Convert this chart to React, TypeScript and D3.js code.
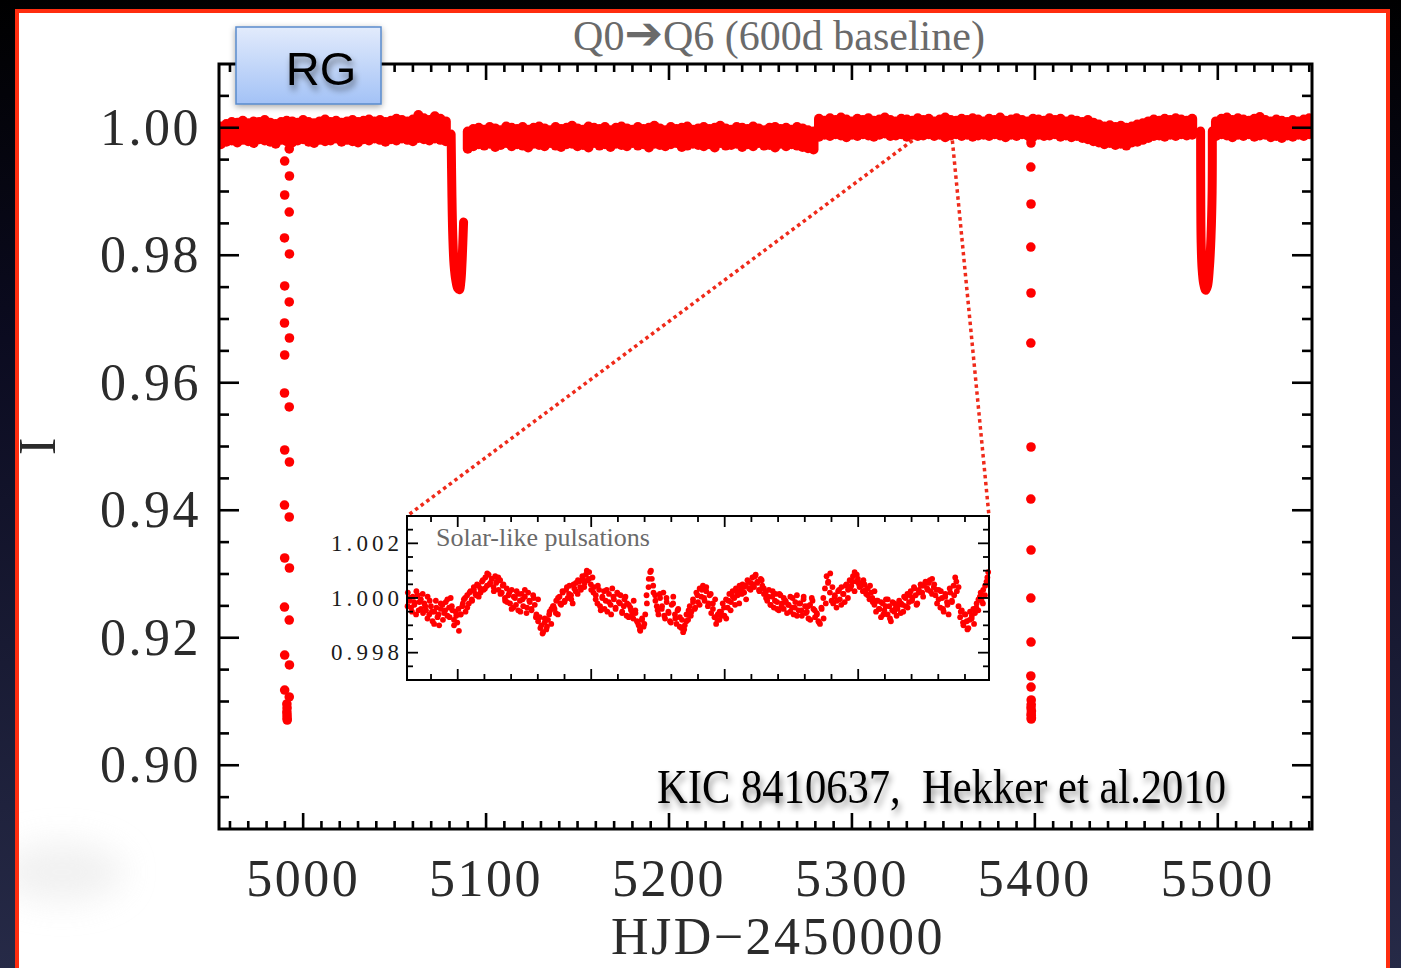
import React from 'react';
import * as d3 from 'd3';

const W = 1401;
const H = 968;

// ---- Main light curve, binned (BIN_DAYS wide); upper/lower flux envelope in units of 1e-4 ----
const BIN_DAYS = 3;

const segAStart = 4955;
const segAHi = [2, 6, 9, 8, 11, 7, 10, 9, 12, 8, 6, 9, 11, 10, 8, 12, 9, 7, 10, 13, 9, 11, 8, 10, 12, 9, 11, 13, 10, 12, 9, 11, 14, 12, 10, 13, 20, 15, 12, 18, 14, 10];
const segALo = [-26, -22, -20, -23, -19, -21, -24, -18, -20, -22, -25, -19, -21, -23, -20, -18, -22, -24, -19, -21, -20, -17, -22, -19, -21, -23, -18, -20, -17, -19, -22, -18, -20, -17, -19, -21, -16, -18, -20, -17, -19, -21];

const segBStart = 5090;
const segBHi = [-6, -2, 0, -3, 1, -1, -4, 2, 0, -2, 1, -3, 0, 2, -1, -4, 1, -2, 0, 3, -1, -3, 2, 0, -2, 1, -4, 0, 2, -1, -3, 1, -2, 0, 3, -1, -4, 1, -2, 0, 2, -3, -1, 1, -2, 0, 3, -1, -3, 1, 0, -2, 2, -1, -4, 0, 1, -2, 0, -3, 1, -1, -4, -6];
const segBLo = [-33, -29, -26, -28, -25, -30, -27, -24, -29, -26, -28, -31, -25, -27, -29, -24, -28, -30, -26, -25, -29, -27, -31, -24, -28, -26, -30, -25, -27, -29, -24, -28, -26, -31, -25, -27, -29, -26, -24, -30, -28, -25, -27, -29, -26, -31, -24, -28, -27, -25, -30, -26, -29, -24, -28, -27, -31, -25, -29, -26, -28, -30, -32, -34];

const segC1Start = 5282;
const segC1Hi = [14, 11, 15, 12, 16, 13, 10, 14, 12, 15, 11, 13, 16, 12, 10, 14, 13, 11, 15, 12, 14, 10, 13, 16, 12, 11, 14, 12, 15, 13, 10, 14, 12, 16, 11, 13, 15, 12, 10, 14, 13, 11, 15, 12, 14, 10, 13, 11, 9, 12, 8, 5, 2, 4, 1, 3, 0, 2, 5, 7, 10, 13, 11, 14, 12, 15, 13, 11, 14];
const segC1Lo = [-14, -11, -13, -10, -12, -15, -11, -13, -10, -12, -14, -11, -9, -13, -12, -10, -14, -11, -13, -12, -10, -13, -11, -15, -12, -10, -13, -11, -14, -12, -11, -13, -10, -12, -15, -11, -13, -10, -12, -14, -11, -13, -12, -10, -14, -12, -15, -13, -16, -18, -21, -23, -26, -24, -27, -25, -28, -23, -22, -19, -16, -13, -12, -14, -11, -13, -10, -12, -11];

const segC2Start = 5499;
const segC2Hi = [10, 14, 16, 12, 15, 13, 11, 14, 17, 12, 10, 13, 11, 9, 12, 10, 13, 15];
const segC2Lo = [-13, -10, -12, -15, -11, -13, -10, -14, -12, -11, -15, -13, -16, -12, -14, -11, -13, -10];

// ---- Secondary eclipses (densely sampled, drawn as thick traces) ----
const ecl1Time = [5080.9, 5081.3, 5081.8, 5082.5, 5083.5, 5084.5, 5085.4, 5086.2, 5086.8, 5087.3, 5087.7];
const ecl1Flux = [0.999, 0.99, 0.983, 0.9785, 0.976, 0.9748, 0.9746, 0.9758, 0.9785, 0.982, 0.9852];

const ecl2Time = [5490.6, 5490.7, 5490.9, 5491.4, 5492.3, 5493.4, 5494.4, 5495.4, 5496.3, 5496.9, 5497.0];
const ecl2Flux = [0.9995, 0.988, 0.982, 0.978, 0.9755, 0.9745, 0.9752, 0.978, 0.983, 0.99, 0.9995];

// ---- Primary eclipses (sparse points) ----
const prim1Time = [
  4989.9, 4989.9, 4989.8, 4989.9, 4989.8, 4989.9, 4989.8, 4989.9, 4989.8, 4989.9, 4989.8, 4989.9, 4989.9,
  4992.4, 4992.5, 4992.4, 4992.5, 4992.4, 4992.5, 4992.4, 4992.5, 4992.4, 4992.5, 4992.4, 4992.5, 4992.4,
  4991.1, 4991.2, 4991.1, 4991.2, 4991.2, 4991.3,
];
const prim1Flux = [
  0.99478, 0.98945, 0.98271, 0.97518, 0.96937, 0.96435, 0.95839, 0.94945, 0.94082, 0.93251, 0.92482, 0.91729, 0.9118,
  0.99667, 0.99243, 0.98678, 0.9802, 0.97267, 0.96702, 0.9562, 0.94757, 0.93894, 0.93094, 0.92278, 0.91573, 0.91071,
  0.90961, 0.90898, 0.90835, 0.90788, 0.90741, 0.9071,
];

const prim2Time = [5397.8, 5397.9, 5397.8, 5397.9, 5397.8, 5397.9, 5397.8, 5397.9, 5397.8, 5397.9, 5397.8, 5397.9, 5397.8, 5397.9, 5398.0, 5397.9, 5398.0, 5398.0, 5398.0, 5398.1, 5398.0, 5398.1];
const prim2Flux = [0.99823, 0.99761, 0.99384, 0.98804, 0.98129, 0.97408, 0.96623, 0.94992, 0.94176, 0.93376, 0.92623, 0.91933, 0.914, 0.91227, 0.91024, 0.90898, 0.90804, 0.90725, 0.9095, 0.9085, 0.9078, 0.9074];

// ---- Inset: solar-like pulsations, relative flux deviation in units of 1e-5 ----
// two interleaved cadence sets over the same window
const insetDomain = [5333.1, 5354.9];
const insetFluxA = [
  20, -10, -35, 5, -25, -60, 10, -15, -40, 15,
  -20, -45, 5, -60, -30, -85, -50, -10, -70, -100, -40, -25, -55, -15, -65, -35, 0, -45, -80, -50, -90, -120, -60,
  -30, -5, -50, 10, -20, 25, -10, 40, 15, 50, 5, 35, 60, 30, 75, 45, 85, 55, 70, 40, 80, 60, 30, 65, 20, 50, -10, 35,
  10, -20, 30, -35, 0, 25, -45, -10, 15, -30, 5, -55, 20, -15, -40, 10, -25, -60, -5,
  -70, -100, -125, -90, -115, -80, -50, -95, -30,
  -40, -10, -60, 5, -25, 20, -15, 30, 0, 45, 10, -20, 35, 55, 15, 60, 30, 70, 40, 85, 65, 95, 50, 75,
  40, 10, -20, 30, -45, 5, 25, -10, -50, 15, -25, 35, -5, -40, 20, -15, 10, -55, -30, 5, -20, -70, -35, -60, -10, -45, -85,
  -100, -120, -80, -105, -60,
  -20, 40, 95, 70, 20,
  10, -30, -60, 0, -40, 20, -75, -15, -50, -85, -25, 5, -60, -95, -40, -70, -110, -125,
  -100, -60, -80, -30, -50, -5, -40, 20, -15, 35, 5, 45, -10, 25, -30, 10, -55, -20, -70, -95, -60,
  -80, -50, -20, -65, -5, -35, 15, -15, 25, 0, 35, 10, -20, 30, 50, 20, 45, 65, 35, 55, 75, 40, 85, 60, 30, 70, 45, 15,
  20, -10, 30, -25, 5, -35, 15, -15, -45, 10, -20,
  -40, -10, -55, -25, 5, -35, -60, -15, 10, -45, -20, -65, -5, -30, -50, -75, -25, 0, -40, -70, -55, -85, -95,
  -40, 0, 35, 80, 60, 20, -10,
  -20, 10, -35, 25, -5, 40, 15, -15, 50, 30, 65, 45, 80, 95, 60,
  70, 40, 55, 25, 50, 15, 35, -5, 20, -15,
  -25, -50, -10, -40, -70, -20, -45, -5, -60, -30, -85, -15, -50, -35,
  -40, -10, -55, -25, 5, -30, 15, -15, 25, 0, 40, 10, -20, 30, 50, 20, 45, 60, 35, 55, 25, 70, 40,
  10, -20, 30, -35, 0, -50, 15, -15, -60, 20, -10, 45, 75, 25,
  -30, -70, -45, -100, -60, -85, -110, -50, -75, -40,
  -55, -20, -45, 5, -10, 30, 10, 60, 95,
];
const insetFluxB = [
  -30, 0, -50, -15, 25, -45, -5,
  -55, -30, -75, -10, -50, -95, -35, -60, -20, -80, -45, -5, -70, -30, -100, -65, -40,
  -60, -20, 0, -35, 20, -5, 30, 10, 45, 20, 65, 35, 90, 50, 70, 25, 55, 75, 15, 45, 0,
  -15, 20, -40, 5, -25, 15, -50, -5, 30, -35, -10, -45, 0, -70,
  -85, -110, -130, -75, -105, -60, -40,
  -30, -55, 0, -20, 25, -10, 40, 15, -5, 50, 25, 65, 40, 80, 55, 100, 70, 30,
  20, -5, 45, -30, 0, -40, 30, -15, -60, 5, -35, 15, -20, -50, -5, -65, -25, -45, -75, -55,
  -90, -115, -75, -95,
  10, 70, 100, 45,
  -10, -45, 15, -30, -65, 0, -55, -90, -20, -75, -45, -105, -80, -115,
  -85, -45, -65, -15, -35, 10, -25, 30, 0, 40, -20, 15, -40, -5, -80, -50,
  -65, -35, -75, -10, -45, 5, -25, 20, 45, 15, 40, -5, 60, 30, 50, 80, 55, 25, 65, 35, 0,
  5, -25, 25, -10, -40, 15, -30, 0, -15,
  -25, -50, 0, -35, -65, -20, -45, 5, -55, -30, -80, -10, -45, -60, -90, -35, -75,
  -20, 55, 90, 40, 5,
  -10, 30, -25, 15, 45, 0, 35, 60, 25, 85, 50,
  45, 65, 30, 10, 45, 0, 25, -10,
  -40, -15, -60, -30, -5, -75, -45, -20, -65, -25,
  -20, -50, 0, -35, 10, -10, 35, -25, 20, 45, 5, 55, 30, 65, 15, 50, 30,
  -5, 25, -40, 5, -25, 35, -15, 10, 60, 40,
  -50, -90, -60, -115, -80, -65, -95,
  -35, -5, 20, -20, 45, 75,
];

// ---- Axis ticks ----
const xMajorTicks = [5000, 5100, 5200, 5300, 5400, 5500];
const yMajorTicks = [0.9, 0.92, 0.94, 0.96, 0.98, 1.0];
const insetXMajor = [5335, 5340, 5345, 5350];
const insetYMajor = [0.998, 1.0, 1.002];

const RED = '#ff0000';
const SERIF = '"Liberation Serif", "Times New Roman", serif';

const xMain = d3.scaleLinear().domain([4954, 5551.5]).range([219, 1312]);
const yMain = d3.scaleLinear().domain([0.89, 1.01]).range([829, 64]);
const xIn = d3.scaleLinear().domain(insetDomain).range([407, 989]);
const yIn = d3.scaleLinear().domain([0.997, 1.003]).range([680, 516]);

type Bin = { t: number; hi: number; lo: number };
function bins(start: number, hi: number[], lo: number[]): Bin[] {
  return hi.map((h, i) => ({ t: start + i * BIN_DAYS, hi: 1 + h * 1e-4, lo: 1 + lo[i] * 1e-4 }));
}

const band: Bin[] = [
  ...bins(segAStart, segAHi, segALo),
  ...bins(segBStart, segBHi, segBLo),
  ...bins(segC1Start, segC1Hi, segC1Lo),
  ...bins(segC2Start, segC2Hi, segC2Lo),
];

const zip = (ts: number[], fs: number[]) => ts.map((t, i) => ({ t, f: fs[i] }));
const eclipseLine = d3
  .line<{ t: number; f: number }>()
  .x((d) => xMain(d.t))
  .y((d) => yMain(d.f))
  .curve(d3.curveCatmullRom);

const primaryPts = [...zip(prim1Time, prim1Flux), ...zip(prim2Time, prim2Flux)];

function cadence(vals: number[], phase: number) {
  const step = (insetDomain[1] - insetDomain[0]) / vals.length;
  return vals.map((v, i) => ({ t: insetDomain[0] + (i + phase) * step, f: 1 + v * 1e-5 }));
}
const insetPts = [...cadence(insetFluxA, 0.5), ...cadence(insetFluxB, 0.25)];

const xMinorTicks = d3.range(4960, 5551, 10).filter((v) => v % 100 !== 0);
const yMinorTicks = d3.range(895, 1010, 5).filter((v) => v % 20 !== 0).map((v) => v / 1000);
const insetXMinor = d3.range(5334, 5355, 1).filter((v) => v % 5 !== 0);
const insetYMinor = d3.range(9975, 10030, 5).filter((v) => v % 20 !== 0).map((v) => v / 10000);

function Ticks(props: {
  x0: number; x1: number; y0: number; y1: number;
  xs: { v: number; len: number }[]; ys: { v: number; len: number }[];
  sx: (v: number) => number; sy: (v: number) => number; sw: number;
}) {
  const { x0, x1, y0, y1, xs, ys, sx, sy, sw } = props;
  return (
    <g stroke="#000" strokeWidth={sw}>
      {xs.map((d, i) => (
        <g key={'x' + i}>
          <line x1={sx(d.v)} x2={sx(d.v)} y1={y1} y2={y1 - d.len} />
          <line x1={sx(d.v)} x2={sx(d.v)} y1={y0} y2={y0 + d.len} />
        </g>
      ))}
      {ys.map((d, i) => (
        <g key={'y' + i}>
          <line x1={x0} x2={x0 + d.len} y1={sy(d.v)} y2={sy(d.v)} />
          <line x1={x1} x2={x1 - d.len} y1={sy(d.v)} y2={sy(d.v)} />
        </g>
      ))}
    </g>
  );
}

export default function App() {
  const [px0, px1] = xMain.range();
  const [py1, py0] = yMain.range();
  const [ix0, ix1] = xIn.range();
  const [iy1, iy0] = yIn.range();

  const connL = { x1: xMain(insetDomain[0]), y1: yMain(0.998), x2: ix0, y2: iy0 };
  const connR = { x1: xMain(insetDomain[1]), y1: yMain(0.998), x2: ix1, y2: iy0 };

  return (
    <svg width={W} height={H} style={{ position: 'absolute', left: 0, top: 0 }} xmlns="http://www.w3.org/2000/svg">
      <defs>
        <linearGradient id="bg" x1="0" y1="0" x2="0" y2="1">
          <stop offset="0%" stopColor="#000000" />
          <stop offset="35%" stopColor="#0b0b20" />
          <stop offset="100%" stopColor="#262a47" />
        </linearGradient>
        <linearGradient id="rgFill" x1="0" y1="0" x2="0" y2="1">
          <stop offset="0%" stopColor="#e2ebfc" />
          <stop offset="100%" stopColor="#a3c2f6" />
        </linearGradient>
        <filter id="textShadow" x="-10%" y="-40%" width="120%" height="200%">
          <feDropShadow dx="2" dy="5" stdDeviation="3" floodColor="#000" floodOpacity="0.45" />
        </filter>
        <filter id="boxShadow" x="-20%" y="-20%" width="140%" height="150%">
          <feDropShadow dx="0" dy="2" stdDeviation="3" floodColor="#000" floodOpacity="0.35" />
        </filter>
        <filter id="haze" x="-100%" y="-100%" width="300%" height="300%">
          <feGaussianBlur stdDeviation="16" />
        </filter>
        <clipPath id="plotClip">
          <rect x={px0} y={py0} width={px1 - px0} height={py1 - py0} />
        </clipPath>
        <clipPath id="panelClip">
          <rect x={19} y={13} width={1367} height={960} />
        </clipPath>
      </defs>

      {/* backdrop and slide panel */}
      <rect x={0} y={0} width={W} height={H} fill="url(#bg)" />
      <rect x={17} y={11} width={1371} height={980} fill="#ffffff" stroke="#ff2d0f" strokeWidth={4} />
      <g clipPath="url(#panelClip)">
        <ellipse cx={62} cy={872} rx={62} ry={30} fill="#e6e6e6" opacity={0.55} filter="url(#haze)" />
      </g>

      {/* title */}
      <text x={779} y={50} textAnchor="middle" fontFamily={SERIF} fontSize={42} fill="#6a6a6a">
        Q0
        <tspan fontFamily='"DejaVu Sans", sans-serif' fontSize={46} dy={-1}>➔</tspan>
        <tspan dy={1}>Q6 (600d baseline)</tspan>
      </text>

      {/* light curve */}
      <g clipPath="url(#plotClip)">
        <g stroke={RED} strokeWidth={10} strokeLinecap="round">
          {band.map((b, i) => (
            <line key={i} x1={xMain(b.t)} x2={xMain(b.t)} y1={yMain(b.hi)} y2={yMain(b.lo)} />
          ))}
        </g>
        <g fill="none" stroke={RED} strokeWidth={9} strokeLinecap="round" strokeLinejoin="round">
          <path d={eclipseLine(zip(ecl1Time, ecl1Flux)) || ''} />
          <path d={eclipseLine(zip(ecl2Time, ecl2Flux)) || ''} />
        </g>
        <g fill={RED}>
          {primaryPts.map((p, i) => (
            <circle key={i} cx={xMain(p.t)} cy={yMain(p.f)} r={4.8} />
          ))}
        </g>
      </g>

      {/* main frame */}
      <rect x={px0} y={py0} width={px1 - px0} height={py1 - py0} fill="none" stroke="#000" strokeWidth={3} />
      <Ticks
        x0={px0} x1={px1} y0={py0} y1={py1}
        xs={[...xMajorTicks.map((v) => ({ v, len: 16 })), ...xMinorTicks.map((v) => ({ v, len: 8 }))]}
        ys={[...yMajorTicks.map((v) => ({ v, len: 20 })), ...yMinorTicks.map((v) => ({ v, len: 10 }))]}
        sx={xMain} sy={yMain} sw={2.6}
      />

      <g fontFamily={SERIF} fontSize={52} fill="#2b2b2b" letterSpacing={2.5}>
        {yMajorTicks.map((v) => (
          <text key={v} x={201} y={yMain(v) + 17} textAnchor="end">{v.toFixed(2)}</text>
        ))}
        {xMajorTicks.map((v) => (
          <text key={v} x={xMain(v)} y={896} textAnchor="middle">{v}</text>
        ))}
        <text x={778} y={954} textAnchor="middle">HJD−2450000</text>
        <text x={0} y={0} textAnchor="middle" transform="translate(55,445) rotate(-90)">I</text>
      </g>

      {/* zoom connectors */}
      <g stroke="#ef2a1a" strokeWidth={3.5} strokeDasharray="3.5 3.5" fill="none">
        <line {...connL} />
        <line {...connR} />
      </g>

      {/* inset */}
      <rect x={ix0} y={iy0} width={ix1 - ix0} height={iy1 - iy0} fill="#ffffff" />
      <g fill={RED}>
        {insetPts.map((p, i) => (
          <circle key={i} cx={xIn(p.t)} cy={yIn(p.f)} r={2.9} />
        ))}
      </g>
      <rect x={ix0} y={iy0} width={ix1 - ix0} height={iy1 - iy0} fill="none" stroke="#000" strokeWidth={2} />
      <Ticks
        x0={ix0} x1={ix1} y0={iy0} y1={iy1}
        xs={[...insetXMajor.map((v) => ({ v, len: 11 })), ...insetXMinor.map((v) => ({ v, len: 6 }))]}
        ys={[...insetYMajor.map((v) => ({ v, len: 11 })), ...insetYMinor.map((v) => ({ v, len: 6 }))]}
        sx={xIn} sy={yIn} sw={1.8}
      />
      <g fontFamily={SERIF} fontSize={23} fill="#1a1a1a">
        {insetYMajor.map((v) => (
          <text key={v} x={399} y={yIn(v) + 7.5} textAnchor="end" textLength={68} lengthAdjust="spacing">{v.toFixed(3)}</text>
        ))}
      </g>
      <text x={436} y={546} fontFamily={SERIF} fontSize={26} fill="#6a6a6a">Solar-like pulsations</text>

      {/* RG tag */}
      <g filter="url(#boxShadow)">
        <rect x={236} y={27} width={145} height={77} fill="url(#rgFill)" stroke="#5a8bcc" strokeWidth={1.5} />
      </g>
      <text x={321} y={85} textAnchor="middle" fontFamily='"Liberation Sans", Arial, sans-serif' fontSize={47} fill="#000" filter="url(#textShadow)">RG</text>

      {/* source */}
      <text x={657} y={803} fontFamily={SERIF} fontSize={48} fill="#000" textLength={569} lengthAdjust="spacingAndGlyphs" filter="url(#textShadow)">
        {'KIC 8410637,\u00A0 Hekker et al.2010'}
      </text>
    </svg>
  );
}
